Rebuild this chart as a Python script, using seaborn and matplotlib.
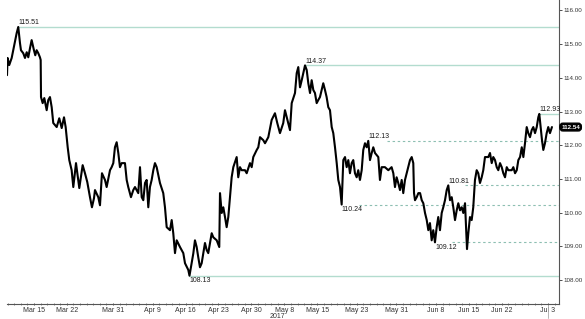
import matplotlib
matplotlib.use("Agg")
import matplotlib.pyplot as plt
import matplotlib.transforms as mtransforms
import seaborn as sns
import pandas as pd
import numpy as np

# ---- data (trading-day index since Mon Mar 13 2017, price) ----
day = [-2.09, -2.00, -1.75, -1.38, -1.14, -0.88, -0.62, -0.38, -0.12, 0.03, 0.38, 0.64, 0.90, 1.14, 1.40, 1.65,
       2.00, 2.20, 2.41, 2.66, 2.91, 3.02, 3.07, 3.32, 3.57, 3.93, 4.17, 4.43, 4.69, 4.93, 5.45, 5.84, 6.21, 6.56,
       6.81, 7.12, 7.36, 7.72, 7.97, 8.38, 8.73, 8.88, 9.39, 9.74, 10.09, 10.50, 10.80, 11.11, 11.26,
       11.76, 12.02, 12.32, 12.78, 13.03, 13.54, 13.79, 14.04, 14.29, 14.55, 14.80, 15.05, 15.31, 15.81, 16.07,
       16.31, 16.72, 17.07, 17.33, 17.83, 18.09, 18.35, 18.59, 18.85, 19.10, 19.35, 19.60, 19.86, 20.11, 20.36,
       20.62, 21.12, 21.62, 21.88, 22.14, 22.64, 22.90, 23.14, 23.40, 23.66, 24.16, 24.66, 24.92, 25.42, 25.60,
       26.18, 26.43, 26.69, 26.93, 27.19, 27.45, 27.95, 28.21, 28.45, 28.97, 29.21, 29.73, 30.12, 30.23, 30.49,
       30.73, 30.99, 31.24, 31.49, 31.74, 32.00, 32.25, 32.76, 33.00, 33.26, 33.52, 34.02, 34.28, 34.78, 35.04,
       35.28, 35.80, 36.04, 36.30, 36.80, 37.06, 37.56, 38.07, 38.57, 38.92, 39.33, 39.83, 40.09,
       40.59, 40.85, 41.11, 41.61, 41.87, 42.11, 42.37, 42.63, 42.87, 43.13, 43.39, 43.63, 43.89, 44.14, 44.39,
       44.64, 44.90, 45.14, 45.40, 45.66, 45.90, 46.16, 46.41, 46.66, 46.92, 47.18, 47.42, 47.68, 47.94, 48.18,
       48.44, 48.69, 48.94, 49.20, 49.45, 49.70, 49.95, 50.21, 50.45, 50.71, 50.97, 51.21, 51.47, 51.73, 51.97,
       52.23, 52.49, 52.73, 52.99, 53.25, 53.49, 53.75, 54.25, 54.50,
       54.76, 55.26, 55.77, 56.27, 56.53, 56.78, 57.03, 57.28, 57.54, 57.80, 58.04, 58.30, 58.80, 59.06, 59.32,
       59.56, 59.67, 59.82, 60.08, 60.33, 60.59, 60.84, 61.08, 61.34, 61.60, 61.84, 62.09, 62.35, 62.59, 62.85,
       63.11, 63.35, 63.61, 63.87, 64.11, 64.37, 64.63, 64.87, 65.13, 65.39, 65.63, 65.89, 66.15, 66.39, 66.65,
       66.91, 67.15, 67.41, 67.56, 67.71, 67.91, 68.16, 68.42, 68.66, 68.92,
       69.18, 69.42, 69.68, 69.94, 70.18, 70.44, 70.94, 71.20, 71.46, 71.70, 71.96, 72.22, 72.46, 72.72, 72.98,
       73.22, 73.48, 73.74, 73.98, 74.50, 74.74, 75.00, 75.26, 75.50, 75.76, 76.02, 76.26, 76.51, 76.77, 77.01,
       77.27, 77.53, 77.77, 78.03, 78.29, 78.53, 78.68, 78.94, 79.09, 79.29, 79.54, 79.80, 80.04, 80.30, 80.60]
price = [114.08, 114.59, 114.38, 114.59, 114.82, 115.06, 115.33, 115.51, 115.03, 114.82, 114.73, 114.59, 114.76,
         114.61, 114.88, 115.12, 114.82, 114.67, 114.82, 114.73, 114.61, 114.53, 113.43, 113.25, 113.40, 113.04,
         113.34, 113.43, 113.13, 112.66, 112.54, 112.80, 112.51, 112.83, 112.54, 111.94, 111.56, 111.26, 110.76,
         111.47, 110.96, 110.73, 111.41, 111.17, 110.91, 110.46, 110.16, 110.43, 110.67,
         110.46, 110.22, 111.17, 110.97, 110.76, 111.26, 111.35, 111.47, 111.94, 112.09, 111.77, 111.35, 111.47,
         111.47, 110.97, 110.76, 110.46, 110.67, 110.76, 110.58, 111.35, 110.46, 110.37, 110.88, 110.97, 110.16,
         110.76, 110.97, 111.26, 111.47, 111.35, 110.88, 110.58, 110.16, 109.57, 109.48, 109.78, 109.39, 108.80,
         109.18, 108.98, 108.80, 108.50, 108.30, 108.13,
         108.79, 109.18, 108.98, 108.68, 108.38, 108.50, 109.10, 108.89, 108.80, 109.39, 109.27, 109.18, 108.98,
         110.58, 109.99, 110.16, 109.87, 109.57, 109.87, 110.46, 111.05, 111.35, 111.65, 111.05, 111.35, 111.26,
         111.26, 111.17, 111.47, 111.35, 111.65, 111.86, 111.94, 112.24, 112.15, 112.06, 112.24, 112.75, 112.95,
         112.66, 112.36, 112.66, 113.04,
         112.66, 112.45, 113.25, 113.55, 114.14, 114.32, 113.72, 113.93, 114.14, 114.37, 114.23, 113.84, 113.55,
         113.93, 113.64, 113.55, 113.25, 113.34, 113.43, 113.64, 113.84, 113.64, 113.43, 113.13, 113.04, 112.54,
         112.36, 111.94, 111.47, 110.97, 110.76, 110.24, 111.56, 111.65, 111.35, 111.56, 111.17, 111.47, 111.56,
         111.17, 111.05, 111.26, 110.97, 111.26, 111.86, 112.06, 111.94, 112.13, 111.56, 111.77, 111.94, 111.77,
         111.65, 110.97,
         111.35, 111.35, 111.26, 111.35, 111.17, 110.76, 111.05, 110.88, 110.67, 110.97, 110.58, 110.97, 111.35,
         111.56, 111.65, 111.47, 110.58, 110.37, 110.46, 110.58, 110.58, 110.37, 110.28, 109.99, 109.78, 109.48,
         109.69, 109.18, 109.48, 109.12, 109.57, 109.87, 109.48, 109.99, 110.16, 110.37, 110.67, 110.81, 110.37,
         110.46, 110.16, 109.78, 110.07, 110.28, 110.07, 110.16, 109.99, 110.28, 109.57, 108.92, 109.39, 109.87,
         109.78, 110.16, 110.97,
         111.26, 111.17, 110.88, 111.05, 111.26, 111.65, 111.65, 111.77, 111.47, 111.65, 111.56, 111.35, 111.26,
         111.47, 111.35, 111.17, 111.05, 111.35, 111.26, 111.26, 111.35, 111.17, 111.26, 111.56, 111.65, 111.94,
         111.65, 112.06, 112.54, 112.36, 112.24, 112.45, 112.54, 112.36, 112.54, 112.83, 112.93, 112.45, 112.15,
         111.86, 112.06, 112.36, 112.54, 112.36, 112.54]

tick_days = [2, 7, 14, 20, 25, 30, 35, 40, 45, 51, 57, 63, 68, 73, 80]
tick_labels = ["Mar 15", "Mar 22", "Mar 31", "Apr 9", "Apr 16", "Apr 23", "Apr 30", "May 8",
               "May 15", "May 23", "May 31", "Jun 8", "Jun 15", "Jun 22", "Jul 3"]
y_ticks = [108, 109, 110, 111, 112, 113, 114, 115, 116]

# reference levels: value, day where the level's extreme occurred
level_values = [115.51, 114.37, 108.13, 112.93, 112.13, 110.24, 110.81, 109.12]
level_days = [-0.38, 43.13, 25.60, 78.68, 52.73, 48.69, 64.87, 62.85]
last_price = 112.54

df = pd.DataFrame({"day": day, "price": price})

sns.set_theme(style="white")
plt.rcParams["font.family"] = ["Liberation Sans", "DejaVu Sans"]

fig = plt.figure(figsize=(5.85, 3.19), dpi=100)
ax = fig.add_axes([7 / 585, 15 / 319, 552 / 585, 304 / 319])

XMIN, XMAX = -2.09, 81.67
ax.set_xlim(XMIN, XMAX)
ax.set_ylim(107.29, 116.31)

solid_c = "#b3dccf"
dash_c = "#8dbfb2"
txt_c = "#1a1a1a"
fs = 5

# levels
solid_levels = [0, 1, 2, 3]
label_below = {2, 5, 7}
dash_offsets = {4: 2.9, 5: 2.7, 6: 2.5, 7: 2.6}
for i, (v, d) in enumerate(zip(level_values, level_days)):
    if i in solid_levels:
        ax.plot([d, XMAX], [v, v], color=solid_c, lw=1.0, zorder=1)
    else:
        ax.plot([d + dash_offsets[i], XMAX], [v, v], color=dash_c, lw=0.8,
                dashes=(2.2, 2.4), zorder=1)
    va = "top" if i in label_below else "bottom"
    dy = -0.04 if i in label_below else 0.02
    ax.text(d, v + dy, f"{v:.2f}", fontsize=fs, color=txt_c, ha="left", va=va, zorder=4)

sns.lineplot(data=df, x="day", y="price", ax=ax, sort=False, estimator=None,
             color="black", lw=1.5, zorder=3)
ax.set_xlabel("")
ax.set_ylabel("")

# axes styling
for s in ["top", "left"]:
    ax.spines[s].set_visible(False)
for s in ["bottom", "right"]:
    ax.spines[s].set_color("#555555")
    ax.spines[s].set_linewidth(0.8)

ax.yaxis.tick_right()
ax.set_yticks(y_ticks)
ax.set_yticklabels([f"{v:.2f}" for v in y_ticks])
ax.tick_params(axis="y", which="major", right=True, left=False, length=2, width=0.6,
               pad=1, labelsize=4.5, colors="#333333")

ax.set_xticks(tick_days)
ax.set_xticklabels(tick_labels)
ax.set_xticks(np.arange(-2, 82, 1), minor=True)
ax.tick_params(axis="x", which="major", bottom=True, length=2, width=0.6, pad=1,
               labelsize=fs, colors="#333333", direction="inout")
ax.tick_params(axis="x", which="minor", bottom=True, length=1.5, width=0.5,
               colors="#555555", direction="inout")
ax.grid(False)

ax.text(38.9, -0.028, "2017", transform=mtransforms.blended_transform_factory(ax.transData, ax.transAxes),
        fontsize=fs, color="#333333", ha="center", va="top")

# current-time marker below the axis
ax.plot([80, 80], [0, -0.045], transform=mtransforms.blended_transform_factory(ax.transData, ax.transAxes),
        color="#aaaaaa", lw=0.6, clip_on=False)

# last price box
trans = mtransforms.blended_transform_factory(ax.transAxes, ax.transData)
ax.text(1.004, last_price, f"{last_price:.2f}", transform=trans, fontsize=4.5, color="white",
        fontweight="bold", ha="left", va="center",
        bbox=dict(boxstyle="round,pad=0.22,rounding_size=0.5", fc="black", ec="black"))

fig.savefig("out.png", dpi=100)
